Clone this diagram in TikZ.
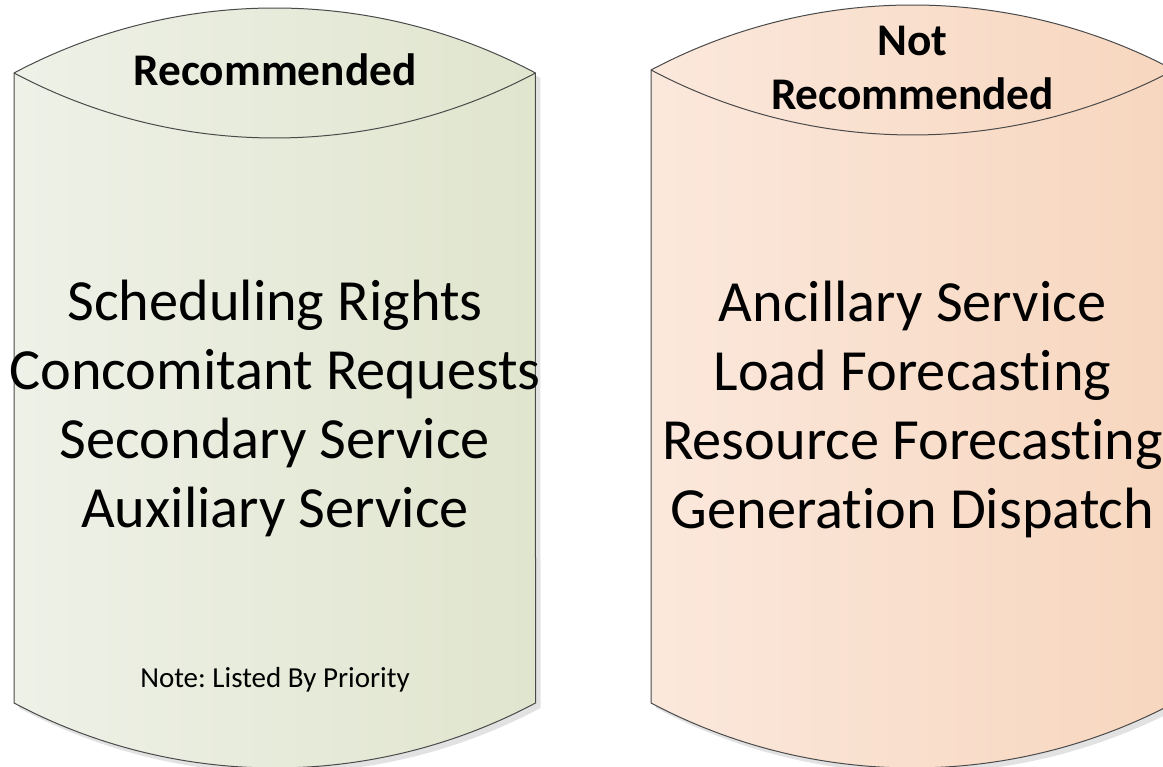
\documentclass[tikz,border=0pt]{standalone}
\usepackage{fontspec}
\setmainfont{Carlito}[Ligatures=NoCommon]
\frenchspacing
\definecolor{greenA}{HTML}{EEF1E7}
\definecolor{greenB}{HTML}{E0E5CE}
\definecolor{peachA}{HTML}{FBE8DC}
\definecolor{peachB}{HTML}{F7D6BE}
\definecolor{edgec}{HTML}{4A4A4A}
\definecolor{shadowc}{HTML}{E2E2E2}
\newcommand{\drawdrum}[6]{%
  \pgfmathsetmacro{\dw}{(#2-#1)/2}%
  \pgfmathsetmacro{\dR}{\dw*(\dw/130)+32.5}%
  \pgfmathsetmacro{\dth}{asin(\dw/\dR)}%
  \fill[shadowc, shift={(5,-5)}] (#1,#3) arc[start angle=90+\dth, end angle=90-\dth, radius=\dR]
     -- (#2,#4) arc[start angle=-90+\dth, end angle=-90-\dth, radius=\dR] -- cycle;
  \path[drumfill, left color=#5, right color=#6] (#1,#3) arc[start angle=90+\dth, end angle=90-\dth, radius=\dR]
     -- (#2,#4) arc[start angle=-90+\dth, end angle=-90-\dth, radius=\dR] -- cycle;
  \draw[drumline] (#2,#3) arc[start angle=-90+\dth, end angle=-90-\dth, radius=\dR];
}
\begin{document}
\begin{tikzpicture}[x=1pt,y=1pt,
  drumfill/.style={draw=edgec, line width=1pt},
  drumline/.style={draw=edgec, line width=1pt},
  head/.style={font=\fontsize{45.3}{54}\selectfont\bfseries, anchor=base, inner sep=0pt},
  item/.style={font=\fontsize{58.3}{69}\selectfont, anchor=base, inner sep=0pt},
  note/.style={font=\fontsize{29}{33}\selectfont, anchor=base, inner sep=0pt}]
\useasboundingbox (0,0) rectangle (1163,767);
\clip (0,0) rectangle (1163,767);
\fill[white] (0,0) rectangle (1163,767);
\drawdrum{14}{535.5}{694}{64}{greenA}{greenB}
\drawdrum{651}{1174}{697}{64}{peachA}{peachB}
% left texts
\node[head] (lhead) at (275,681) {Recommended};
\node[item] (l1) at (275,446) {Scheduling Rights};
\node[item] (l2) at (275,377) {Concomitant Requests};
\node[item] (l3) at (275,308) {Secondary Service};
\node[item] (l4) at (275,239) {Auxiliary Service};
\node[note] (lnote) at (275,79) {Note: Listed By Priority};
% right texts
\node[head] (rhead1) at (912.5,711) {Not};
\node[head] (rhead2) at (912.5,657) {Recommended};
\node[item] (r1) at (912.5,445) {Ancillary Service};
\node[item] (r2) at (912.5,376) {Load Forecasting};
\node[item] (r3) at (912.5,307) {Resource Forecasting};
\node[item] (r4) at (912.5,238) {Generation Dispatch};
\end{tikzpicture}
\end{document}
